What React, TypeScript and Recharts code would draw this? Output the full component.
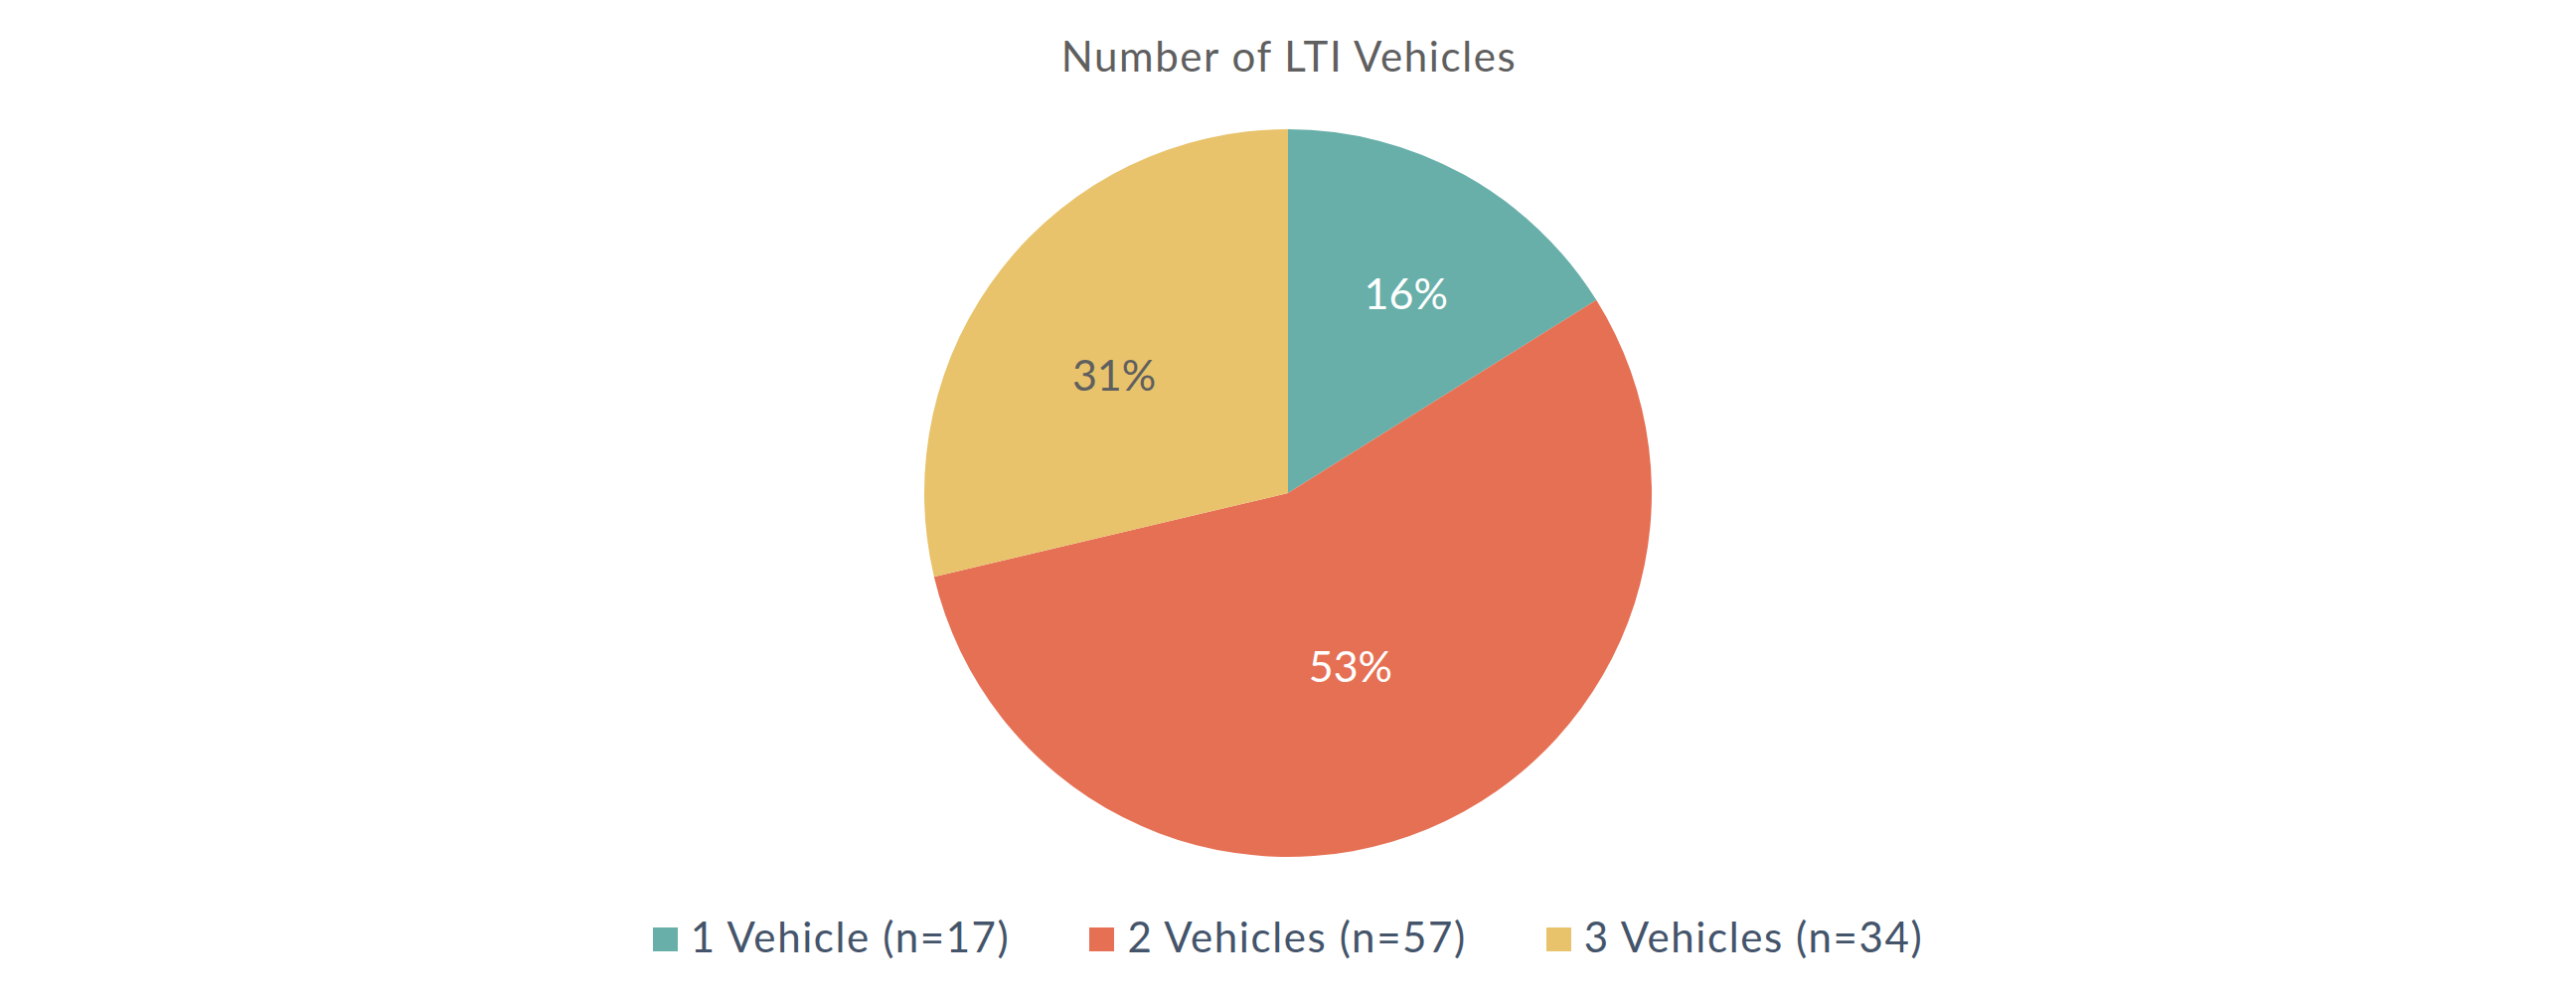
import { PieChart, Pie, Cell, Legend } from 'recharts'

const categories = ['1 Vehicle (n=17)', '2 Vehicles (n=57)', '3 Vehicles (n=34)']
// slice shares as drawn in the picture (degrees measured off the slice edges)
const shares = [16.1, 55.2, 28.7]
// percentage labels as printed on the slices
const percentLabels = ['16%', '53%', '31%']
const colors = ['#68AFAA', '#E67054', '#E8C36B']
const labelColors = ['#FFFFFF', '#FFFFFF', '#5F5F5F']

const data = categories.map((name, i) => ({ name, value: shares[i], label: percentLabels[i] }))

const RADIAN = Math.PI / 180
// label placement: share of radius, and a small nudge off the mid angle (deg, clockwise)
const labelRadius = [0.638, 0.503, 0.578]
const labelNudge = [1.6, 2.7, -4.1]

function renderLabel(props: any) {
  const { cx, cy, midAngle, outerRadius, index } = props
  const r = outerRadius * labelRadius[index]
  const a = (midAngle - labelNudge[index]) * RADIAN
  const x = cx + r * Math.cos(-a)
  const y = cy + r * Math.sin(-a)
  return (
    <text
      x={x}
      y={y}
      fill={labelColors[index]}
      textAnchor="middle"
      dominantBaseline="central"
      fontSize={43}
      fontFamily="Lato"
    >
      {data[index].label}
    </text>
  )
}

function LegendContent() {
  return (
    <div style={{ display: 'flex', justifyContent: 'center', alignItems: 'center', height: 52, fontFamily: 'Lato', fontSize: 42, lineHeight: '52px', letterSpacing: 1.6, color: '#44546A' }}>
      {categories.map((c, i) => (
        <div key={c} style={{ display: 'flex', alignItems: 'center', marginRight: i < categories.length - 1 ? 80 : 0 }}>
          <span style={{ display: 'inline-block', width: 25, height: 24, background: colors[i], marginRight: 13, position: 'relative', top: 3 }} />
          <span>{c}</span>
        </div>
      ))}
    </div>
  )
}

export default function App() {
  return (
    <div style={{ position: 'fixed', left: 0, top: 0, width: 2592, height: 1014, background: '#fff' }}>
      <svg width={2592} height={120} style={{ position: 'absolute', left: 0, top: 0 }}>
        <text x={1297} y={72} textAnchor="middle" fontFamily="Lato" fontSize={42} letterSpacing={1.6} fill="#5F5F5F">
          Number of LTI Vehicles
        </text>
      </svg>
      <PieChart width={2592} height={1014} margin={{ top: 0, right: 0, bottom: 0, left: 0 }} style={{ position: 'absolute', left: 0, top: 0 }}>
        <Pie
          data={data}
          dataKey="value"
          nameKey="name"
          cx={1296}
          cy={496}
          outerRadius={366}
          startAngle={90}
          endAngle={-270}
          stroke="none"
          labelLine={false}
          label={renderLabel}
          isAnimationActive={false}
        >
          {data.map((d, i) => (
            <Cell key={d.name} fill={colors[i]} />
          ))}
        </Pie>
        <Legend content={<LegendContent />} wrapperStyle={{ top: 916, left: 0, width: 2592 }} />
      </PieChart>
    </div>
  )
}
